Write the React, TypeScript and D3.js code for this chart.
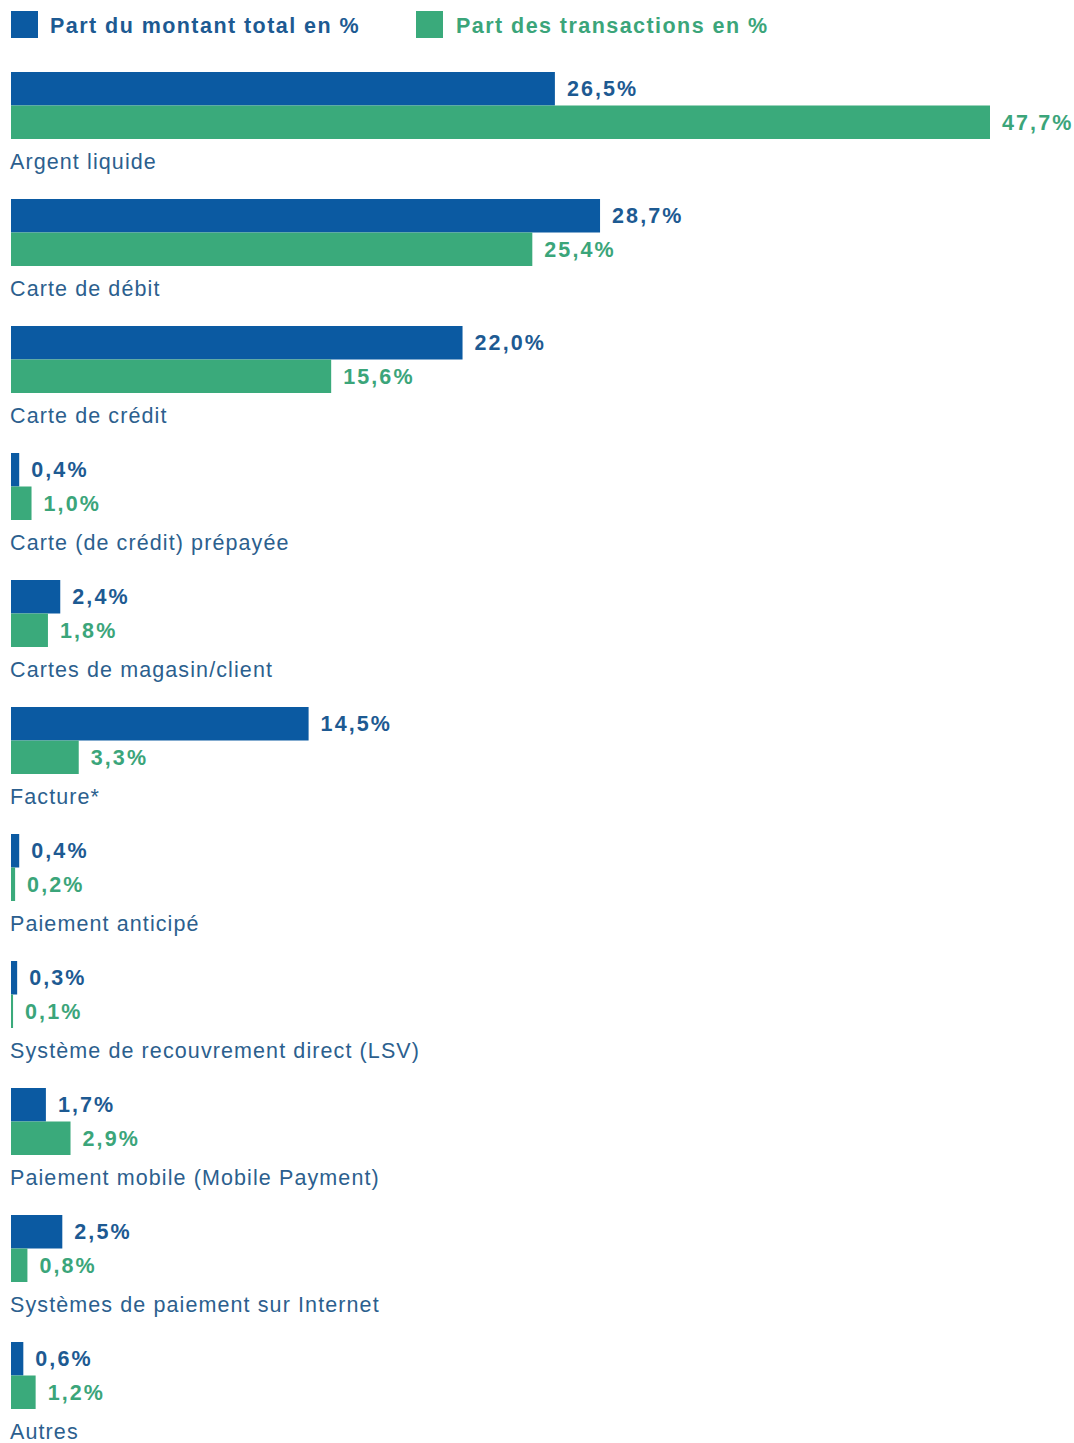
import React from "react";
import * as d3 from "d3";

const categories = [
  "Argent liquide",
  "Carte de débit",
  "Carte de crédit",
  "Carte (de crédit) prépayée",
  "Cartes de magasin/client",
  "Facture*",
  "Paiement anticipé",
  "Système de recouvrement direct (LSV)",
  "Paiement mobile (Mobile Payment)",
  "Systèmes de paiement sur Internet",
  "Autres",
];
const montant = [26.5, 28.7, 22.0, 0.4, 2.4, 14.5, 0.4, 0.3, 1.7, 2.5, 0.6];
const transactions = [47.7, 25.4, 15.6, 1.0, 1.8, 3.3, 0.2, 0.1, 2.9, 0.8, 1.2];
const seriesNames = ["Part du montant total en %", "Part des transactions en %"];

const WIDTH = 1074;
const HEIGHT = 1443;
const BLUE = "#0b5aa2";
const GREEN = "#3aaa7b";
const BLUE_TEXT = "#1d5a92";
const GREEN_TEXT = "#3ba57a";
const LABEL_TEXT = "#2c5f8e";
const FONT = "'Liberation Sans', Arial, sans-serif";

const fmt = (v: number) => d3.format(".1f")(v).replace(".", ",") + "%";

export default function App() {
  const x = d3.scaleLinear().domain([0, 47.7]).range([11, 990]);
  const group = d3
    .scaleBand()
    .domain(categories)
    .range([72, 72 + categories.length * 127])
    .paddingInner(0)
    .paddingOuter(0);
  const sub = d3.scaleBand().domain(["m", "t"]).range([0, 67]);

  const rows = categories.map((c, i) => ({ c, m: montant[i], t: transactions[i] }));

  return (
    <svg
      width={WIDTH}
      height={HEIGHT}
      style={{ position: "absolute", left: 0, top: 0, background: "#fff" }}
      fontFamily={FONT}
    >
      {/* legend */}
      <g>
        <rect x={11} y={11} width={27} height={27} fill={BLUE} />
        <text x={50} y={25} dy="0.35em" fontSize={21.5} fontWeight="bold" fill={BLUE_TEXT} letterSpacing={1.45}>
          {seriesNames[0]}
        </text>
        <rect x={416} y={11} width={27} height={27} fill={GREEN} />
        <text x={456} y={25} dy="0.35em" fontSize={21.5} fontWeight="bold" fill={GREEN_TEXT} letterSpacing={1.45}>
          {seriesNames[1]}
        </text>
      </g>

      {rows.map((d) => {
        const g0 = group(d.c)!;
        return (
          <g key={d.c} transform={`translate(0, ${g0})`}>
            <rect x={x(0)} y={sub("m")} width={Math.max(x(d.m) - x(0), 1.5)} height={sub.bandwidth()} fill={BLUE} />
            <rect x={x(0)} y={sub("t")} width={Math.max(x(d.t) - x(0), 1.5)} height={sub.bandwidth()} fill={GREEN} />
            <text
              x={x(d.m) + 12}
              y={sub("m")! + sub.bandwidth() / 2}
              dy="0.35em"
              fontSize={21.5}
              fontWeight="bold"
              fill={BLUE_TEXT}
              letterSpacing={2.1}
            >
              {fmt(d.m)}
            </text>
            <text
              x={x(d.t) + 12}
              y={sub("t")! + sub.bandwidth() / 2}
              dy="0.35em"
              fontSize={21.5}
              fontWeight="bold"
              fill={GREEN_TEXT}
              letterSpacing={2.1}
            >
              {fmt(d.t)}
            </text>
            <text x={10} y={89.5} dy="0.35em" fontSize={21.5} fill={LABEL_TEXT} letterSpacing={1.1}>
              {d.c}
            </text>
          </g>
        );
      })}
    </svg>
  );
}
